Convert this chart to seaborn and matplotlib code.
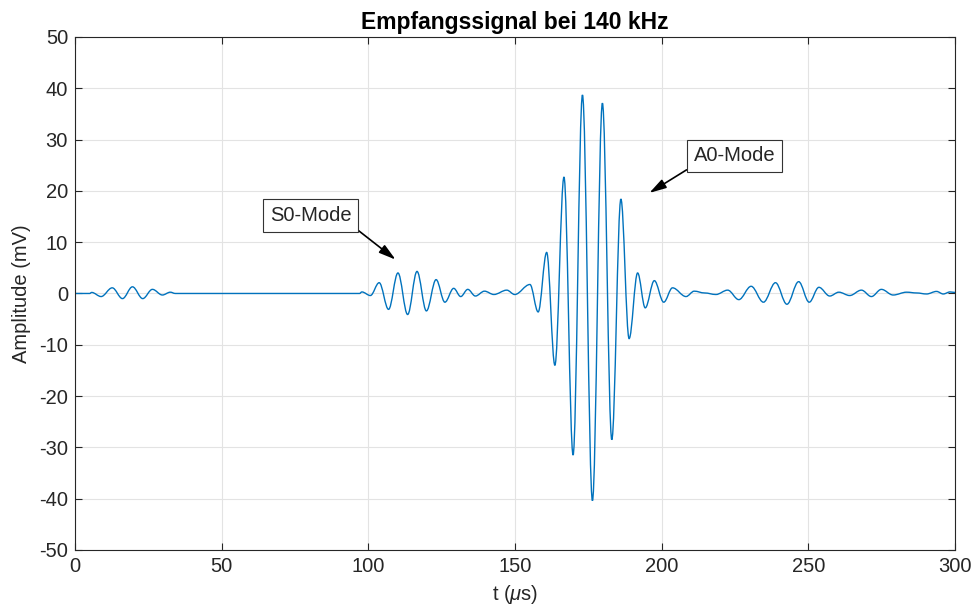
import matplotlib
matplotlib.use('Agg')
import matplotlib.pyplot as plt
from matplotlib.path import Path
from matplotlib.patches import PathPatch
import seaborn as sns
import pandas as pd

# signal extrema (t in microseconds, amplitude in mV)
t_us = [0, 5.0, 5.7, 8.9, 12.7, 16.2, 19.6, 23.1, 26.4, 29.8, 32.5, 34.2,
        97.0, 97.8, 100.7, 103.7, 106.9, 110.1, 113.4, 116.6, 119.8, 123.1,
        126.1, 129.1, 131.5, 133.9, 136.5, 139.6, 142.8, 147.2, 149.9,
        155.1, 157.9, 160.8, 163.6, 166.7, 169.8, 173.0, 176.4, 179.8, 183.0,
        186.1, 188.9, 191.8, 194.4, 197.5, 200.7, 203.7, 208.3, 211.1, 214.6,
        218.5, 222.5, 226.3, 230.5, 234.7, 238.8, 242.7, 246.7, 250.3, 253.6,
        257.3, 260.4, 264.1, 268.1, 271.5, 274.9, 278.9, 283.5, 286.9, 290.3,
        293.7, 296.0, 298.3, 300.0]
amp_mv = [0, 0, 0.2, -0.6, 1.1, -1.0, 1.3, -1.0, 0.8, -0.3, 0.25, 0,
          0, 0.3, -0.4, 2.1, -3.1, 4.0, -4.1, 4.3, -3.4, 2.7,
          -1.7, 1.0, -0.6, 0.8, -0.5, 0.45, -0.2, 0.65, -0.2,
          1.75, -3.6, 8.0, -14.0, 22.7, -31.5, 38.7, -40.4, 37.1, -28.5,
          18.4, -8.8, 4.0, -2.8, 2.5, -1.7, 1.1, -0.6, 0.45, 0.1,
          -0.2, 0.65, -1.2, 1.4, -1.7, 2.1, -2.1, 2.3, -1.7, 1.2,
          -0.5, 0.25, -0.4, 0.65, -0.6, 0.8, -0.3, 0.25, 0.1, -0.1,
          0.4, -0.1, 0.3, 0.2]

x_ticks = [0, 50, 100, 150, 200, 250, 300]
y_ticks = [-50, -40, -30, -20, -10, 0, 10, 20, 30, 40, 50]

df = pd.DataFrame({'t': t_us, 'amp': amp_mv})

sns.set_style('whitegrid')
plt.rcParams['font.family'] = ['Liberation Sans', 'DejaVu Sans']
plt.rcParams['mathtext.fontset'] = 'custom'
plt.rcParams['mathtext.rm'] = 'Liberation Sans'
plt.rcParams['mathtext.it'] = 'Liberation Sans:italic'
plt.rcParams['axes.unicode_minus'] = False

fig = plt.figure(figsize=(9.75, 6.1), dpi=100)
ax = fig.add_axes([0.0769, 0.0984, 0.9026, 0.8410])

sns.lineplot(data=df, x='t', y='amp', ax=ax, color='#0072BD', linewidth=1.0)

# the points are signal extrema, so render the seaborn line as a smooth
# curve with horizontal tangents at every extremum (cubic bezier segments)
line = ax.lines[0]
pts = line.get_xydata()
verts = [tuple(pts[0])]
codes = [Path.MOVETO]
h = 0.36
for (x0, y0), (x1, y1) in zip(pts[:-1], pts[1:]):
    d = x1 - x0
    verts += [(x0 + h * d, y0), (x1 - h * d, y1), (x1, y1)]
    codes += [Path.CURVE4] * 3
ax.add_patch(PathPatch(Path(verts, codes), fill=False, ec=line.get_color(),
                       lw=1.0, zorder=line.get_zorder()))
line.remove()

ax.set_xlim(0, 300)
ax.set_ylim(-50, 50)
ax.set_xticks(x_ticks)
ax.set_yticks(y_ticks)
ax.grid(True, color='#e3e3e3', linewidth=0.8)
for s in ax.spines.values():
    s.set_color('#262626')
    s.set_linewidth(0.8)
ax.tick_params(direction='in', length=5, width=0.8, colors='#262626',
               labelsize=14.5, pad=5, top=True, right=True, bottom=True,
               left=True, labeltop=False, labelright=False)

ax.set_xlabel(r't ($\mu$s)', fontsize=14.5, color='#262626', labelpad=5)
ax.set_ylabel('Amplitude (mV)', fontsize=14.5, color='#262626', labelpad=6)
ax.set_title('Empfangssignal bei 140 kHz', fontsize=16.5, fontweight='bold',
             color='black', pad=6)

box = dict(boxstyle='square,pad=0.33', fc='white', ec='#333333', lw=0.8)
arrow = '-|>,head_length=0.7,head_width=0.2'
ax.annotate('S0-Mode', xy=(109.3, 6.6), xytext=(80.3, 15.2),
            fontsize=14.5, ha='center', va='center', bbox=box,
            arrowprops=dict(arrowstyle=arrow, color='black', lw=1.2,
                            relpos=(1, 0), shrinkA=0, shrinkB=0))
ax.annotate('A0-Mode', xy=(195.8, 19.6), xytext=(224.8, 26.8),
            fontsize=14.5, ha='center', va='center', bbox=box,
            arrowprops=dict(arrowstyle=arrow, color='black', lw=1.2,
                            relpos=(0, 0), shrinkA=0, shrinkB=0))

fig.savefig('out.png', dpi=100)
plt.close(fig)
